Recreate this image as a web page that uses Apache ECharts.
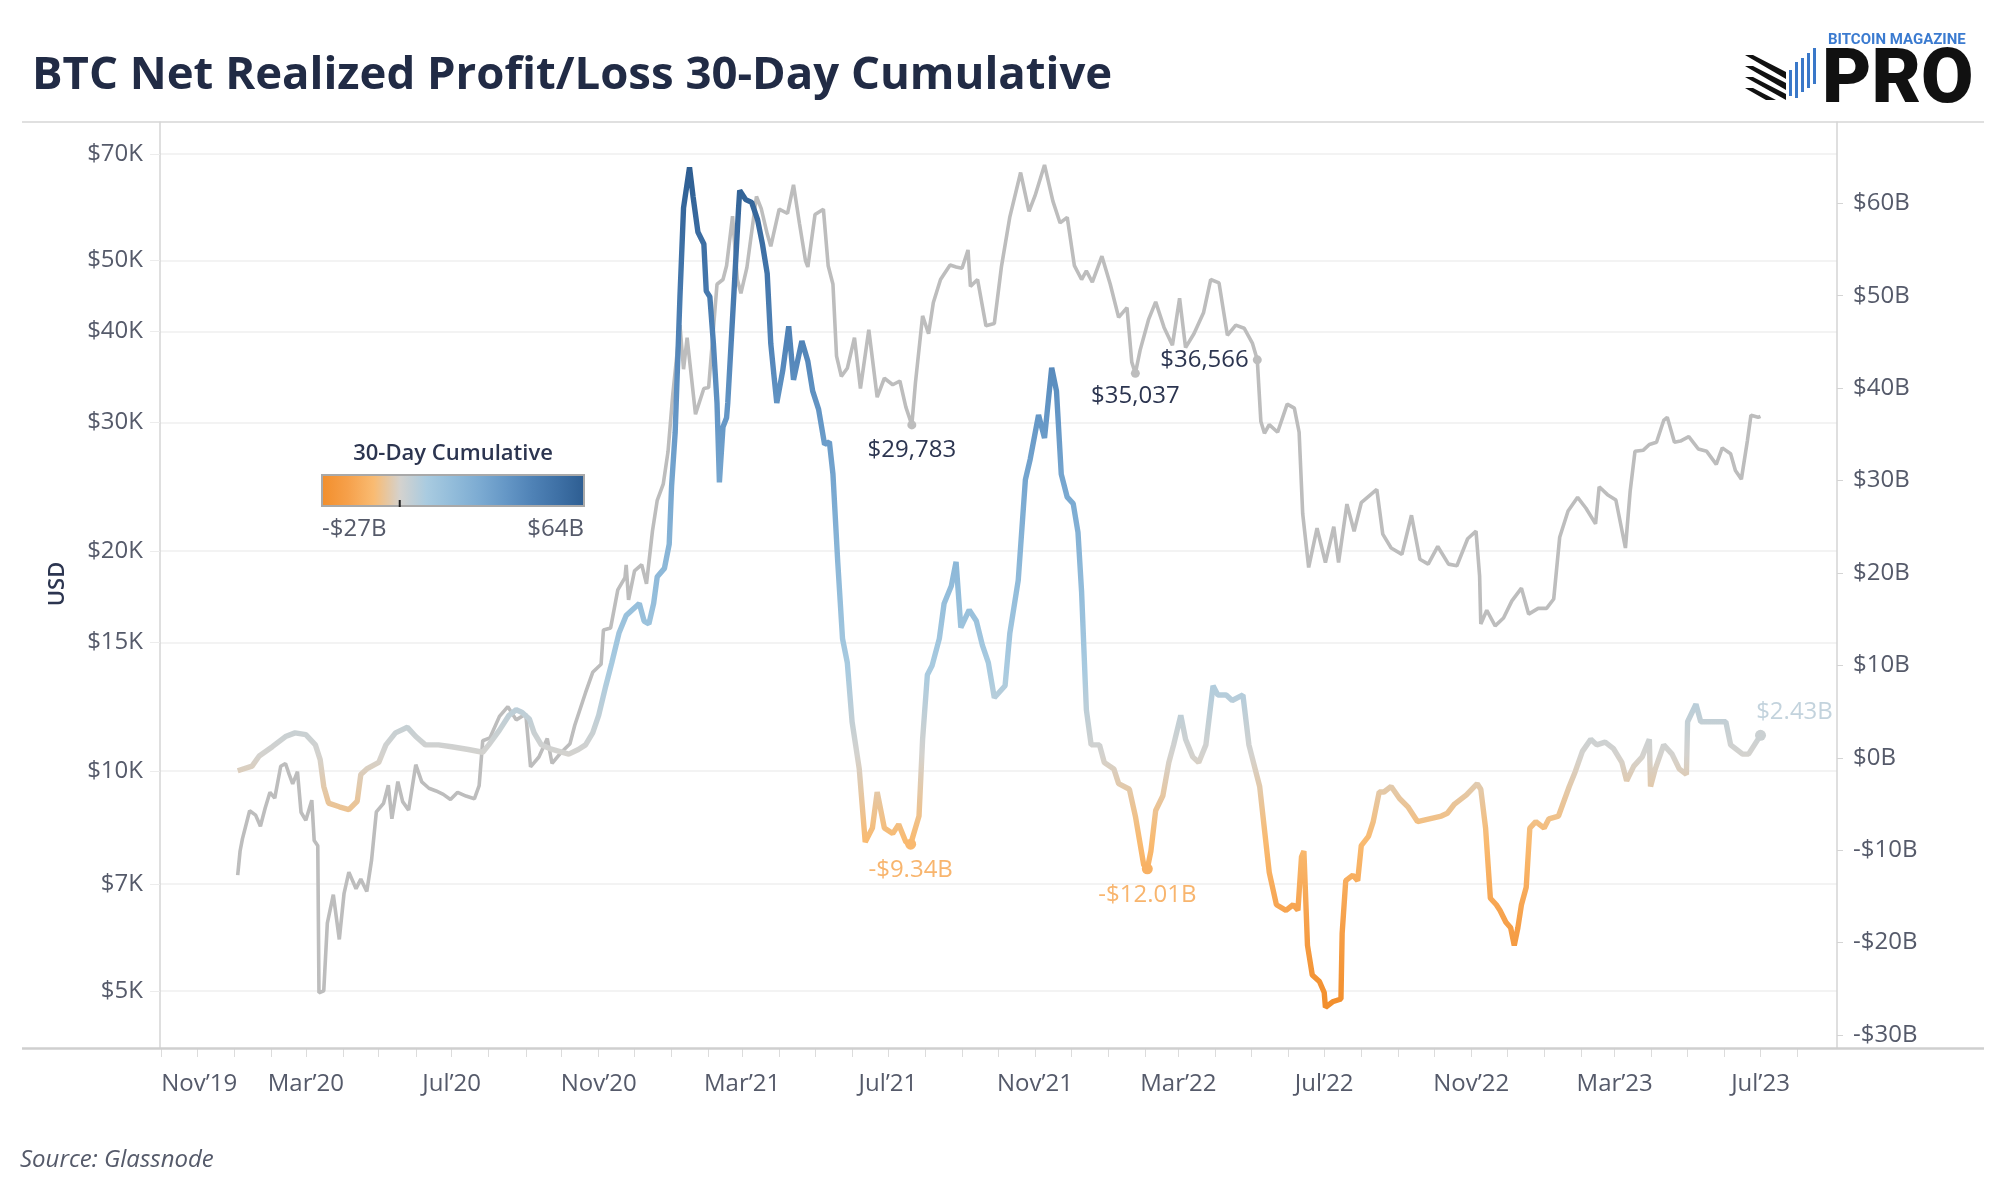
<!DOCTYPE html>
<html>
<head>
<meta charset="utf-8">
<title>BTC Net Realized Profit/Loss 30-Day Cumulative</title>
<script src="https://cdn.jsdelivr.net/npm/echarts@6/dist/echarts.min.js"></script>
<style>
  html, body { margin: 0; padding: 0; background: #fff; }
  #chart { width: 1999px; height: 1200px; }
</style>
</head>
<body>
<div id="chart"></div>
<script>
// BTC price (USD, log scale, left axis)
var priceDates = [
  '2020-01-04','2020-01-06','2020-01-08','2020-01-14','2020-01-19','2020-01-23','2020-01-27','2020-01-31',
  '2020-02-04','2020-02-09','2020-02-13','2020-02-16','2020-02-19','2020-02-23','2020-02-26','2020-03-01',
  '2020-03-06','2020-03-08','2020-03-11','2020-03-12','2020-03-16','2020-03-19','2020-03-24','2020-03-29',
  '2020-04-02','2020-04-06','2020-04-12','2020-04-16','2020-04-21','2020-04-25','2020-04-29','2020-05-05',
  '2020-05-09','2020-05-12','2020-05-17','2020-05-21','2020-05-26','2020-06-01','2020-06-06','2020-06-12',
  '2020-06-18','2020-06-24','2020-06-30','2020-07-06','2020-07-13','2020-07-20','2020-07-24','2020-07-27',
  '2020-08-02','2020-08-10','2020-08-17','2020-08-24','2020-09-01','2020-09-05','2020-09-12','2020-09-19',
  '2020-09-23','2020-10-01','2020-10-08','2020-10-12','2020-10-21','2020-10-27','2020-11-03','2020-11-05',
  '2020-11-11','2020-11-17','2020-11-23','2020-11-24','2020-11-26','2020-12-01','2020-12-07','2020-12-11',
  '2020-12-16','2020-12-20','2020-12-25','2020-12-29',
  '2021-01-02','2021-01-08','2021-01-11','2021-01-14','2021-01-21','2021-01-28','2021-02-01','2021-02-08',
  '2021-02-13','2021-02-16','2021-02-21','2021-02-25','2021-02-28','2021-03-05','2021-03-13','2021-03-17',
  '2021-03-22','2021-03-25','2021-04-01','2021-04-08','2021-04-13','2021-04-18','2021-04-23','2021-04-25',
  '2021-05-01','2021-05-08','2021-05-12','2021-05-16','2021-05-19','2021-05-23','2021-05-28','2021-06-03',
  '2021-06-08','2021-06-15','2021-06-22','2021-06-28','2021-07-05','2021-07-11','2021-07-16','2021-07-21',
  '2021-07-24','2021-07-30','2021-08-04','2021-08-08','2021-08-14','2021-08-22','2021-08-27','2021-09-01',
  '2021-09-06','2021-09-08','2021-09-14','2021-09-21','2021-09-28','2021-10-04','2021-10-11','2021-10-20',
  '2021-10-27','2021-11-01','2021-11-09','2021-11-16','2021-11-22','2021-11-28','2021-12-04','2021-12-10',
  '2021-12-14','2021-12-19','2021-12-27',
  '2022-01-03','2022-01-10','2022-01-17','2022-01-21','2022-01-24','2022-01-28','2022-02-04','2022-02-10',
  '2022-02-17','2022-02-24','2022-03-02','2022-03-07','2022-03-14','2022-03-22','2022-03-28','2022-04-04',
  '2022-04-11','2022-04-18','2022-04-25','2022-05-02','2022-05-06','2022-05-09','2022-05-12','2022-05-16',
  '2022-05-23','2022-05-31','2022-06-06','2022-06-10','2022-06-13','2022-06-18','2022-06-25','2022-07-02',
  '2022-07-09','2022-07-13','2022-07-20','2022-07-26','2022-08-01','2022-08-14','2022-08-19','2022-08-26',
  '2022-09-04','2022-09-12','2022-09-19','2022-09-26','2022-10-04','2022-10-13','2022-10-20','2022-10-29',
  '2022-11-05','2022-11-08','2022-11-09','2022-11-14','2022-11-21','2022-11-28','2022-12-05','2022-12-13',
  '2022-12-19','2022-12-27',
  '2023-01-03','2023-01-09','2023-01-14','2023-01-21','2023-01-29','2023-02-05','2023-02-13','2023-02-16',
  '2023-02-23','2023-03-02','2023-03-10','2023-03-14','2023-03-18','2023-03-25','2023-03-30','2023-04-05',
  '2023-04-11','2023-04-14','2023-04-20','2023-04-25','2023-05-02','2023-05-10','2023-05-17','2023-05-25',
  '2023-05-30','2023-06-06','2023-06-10','2023-06-15','2023-06-20','2023-06-23','2023-06-29','2023-07-01'
];
var priceUsd = [
  7200,7770,8080,8820,8700,8400,8900,9350,
  9180,10150,10240,9900,9600,9980,8780,8560,
  9120,8030,7900,4970,5000,6190,6770,5880,
  6800,7270,6900,7110,6840,7550,8790,9030,
  9560,8600,9670,9080,8840,10200,9660,9470,
  9390,9290,9140,9350,9240,9160,9550,11000,
  11100,11880,12250,11750,11970,10130,10450,11080,
  10240,10620,10900,11550,12800,13650,14000,15600,
  15700,17700,18400,19150,17150,18800,19170,18050,
  21310,23480,24700,27360,
  32780,40800,35500,39200,30800,33400,33500,46400,
  47100,49200,57500,47100,45100,48900,61200,58900,
  54400,52300,58800,58000,63500,56200,50000,49000,
  57800,58800,49200,46400,37000,34700,35600,39200,
  33400,40200,32500,34500,33800,34200,31500,29783,
  34000,42000,39700,43800,47100,49300,49000,48800,
  51700,46100,47100,40700,41000,49100,57400,66000,
  58400,61300,67600,60300,56300,57300,49200,47100,
  48400,46700,50700,
  46400,41800,43100,36300,35037,37700,41500,43900,
  40500,38300,44400,38000,39700,42400,47100,46600,
  39500,40800,40400,38500,36566,30100,29000,29800,
  29100,31800,31400,29100,22500,19000,21500,19300,
  21600,19300,23200,21300,23300,24300,21100,20200,
  19800,22400,19500,19200,20300,19200,19100,20800,
  21300,18500,15900,16600,15800,16200,17100,17800,
  16400,16700,
  16700,17200,20900,22700,23700,22900,21800,24500,
  23900,23500,20200,24200,27400,27500,28000,28200,
  30200,30500,28200,28300,28700,27600,27400,26300,
  27700,27200,25800,25100,28300,30700,30500,30600
];

// Net realized profit/loss, 30-day cumulative (USD billions, right axis)
var nrplDates = [
  '2020-01-04','2020-01-16','2020-01-22','2020-02-02','2020-02-13','2020-02-21','2020-03-01','2020-03-09',
  '2020-03-13','2020-03-16','2020-03-20','2020-03-29','2020-04-06','2020-04-13','2020-04-16','2020-04-21',
  '2020-05-01','2020-05-07','2020-05-15','2020-05-25','2020-06-01','2020-06-09','2020-06-20','2020-07-01',
  '2020-07-15','2020-07-27','2020-08-01','2020-08-10','2020-08-18','2020-08-24','2020-08-29','2020-09-04',
  '2020-09-08','2020-09-14','2020-09-21','2020-09-29','2020-10-07','2020-10-15','2020-10-21','2020-10-27',
  '2020-11-01','2020-11-07','2020-11-12','2020-11-18','2020-11-24','2020-11-29','2020-12-05','2020-12-09',
  '2020-12-13','2020-12-17','2020-12-20','2020-12-26','2020-12-30',
  '2021-01-01','2021-01-04','2021-01-08','2021-01-11','2021-01-16','2021-01-19','2021-01-23','2021-01-28',
  '2021-01-30','2021-02-02','2021-02-05','2021-02-08','2021-02-10','2021-02-13','2021-02-16','2021-02-17',
  '2021-02-22','2021-02-26','2021-02-27','2021-03-04','2021-03-09','2021-03-14','2021-03-18','2021-03-22',
  '2021-03-25','2021-03-28','2021-03-30','2021-04-04','2021-04-09','2021-04-13','2021-04-20','2021-04-25',
  '2021-04-29','2021-05-04','2021-05-09','2021-05-13','2021-05-16','2021-05-20','2021-05-24','2021-05-28',
  '2021-06-01','2021-06-07','2021-06-12','2021-06-18','2021-06-22','2021-06-28','2021-07-05','2021-07-10',
  '2021-07-16','2021-07-20','2021-07-27','2021-07-30','2021-08-03','2021-08-07','2021-08-13','2021-08-17',
  '2021-08-23','2021-08-27','2021-08-31','2021-09-07','2021-09-13','2021-09-18','2021-09-23','2021-09-28',
  '2021-10-07','2021-10-11','2021-10-18','2021-10-24','2021-10-28','2021-11-04','2021-11-09','2021-11-15',
  '2021-11-19','2021-11-23','2021-11-28','2021-12-03','2021-12-07','2021-12-10','2021-12-14','2021-12-18',
  '2021-12-25','2021-12-29',
  '2022-01-06','2022-01-10','2022-01-19','2022-01-24','2022-01-31','2022-02-03','2022-02-06','2022-02-10',
  '2022-02-16','2022-02-21','2022-02-25','2022-03-03','2022-03-07','2022-03-13','2022-03-18','2022-03-24',
  '2022-03-30','2022-04-03','2022-04-10','2022-04-15','2022-04-24','2022-04-29','2022-05-08','2022-05-16',
  '2022-05-22','2022-05-30','2022-06-05','2022-06-09','2022-06-12','2022-06-14','2022-06-17','2022-06-21',
  '2022-06-27','2022-07-01','2022-07-02','2022-07-08','2022-07-15','2022-07-16','2022-07-19','2022-07-25',
  '2022-07-29','2022-08-01','2022-08-07','2022-08-11','2022-08-16','2022-08-20','2022-08-26','2022-09-02',
  '2022-09-09','2022-09-17','2022-09-27','2022-10-07','2022-10-12','2022-10-18','2022-10-28','2022-11-06',
  '2022-11-09','2022-11-13','2022-11-17','2022-11-22','2022-11-25','2022-11-30','2022-12-04','2022-12-07',
  '2022-12-10','2022-12-13','2022-12-17','2022-12-20','2022-12-25',
  '2023-01-01','2023-01-05','2023-01-13','2023-01-22','2023-01-27','2023-02-02','2023-02-09','2023-02-14',
  '2023-02-21','2023-02-28','2023-03-07','2023-03-11','2023-03-17','2023-03-24','2023-03-30','2023-03-31',
  '2023-04-04','2023-04-11','2023-04-18','2023-04-24','2023-04-30','2023-05-01','2023-05-08','2023-05-12',
  '2023-05-19','2023-05-25','2023-06-02','2023-06-06','2023-06-16','2023-06-21','2023-07-01'
];
var nrplBillions = [
  -1.4,-0.9,0.2,1.2,2.3,2.7,2.5,1.4,
  -0.2,-3.1,-4.9,-5.3,-5.6,-4.7,-1.8,-1.2,
  -0.5,1.4,2.7,3.3,2.3,1.4,1.4,1.2,
  0.9,0.6,1.4,3.0,4.6,5.2,4.9,4.2,
  2.7,1.4,1.0,0.7,0.4,0.9,1.4,2.7,
  4.6,7.8,10.3,13.5,15.4,16.0,16.7,14.8,
  14.5,16.7,19.6,20.5,23.1,
  29.4,35.2,49.9,59.5,63.9,60.7,56.9,55.6,
  50.5,49.9,44.8,38.4,29.8,35.8,36.8,38.4,
  49.9,59.4,61.4,60.4,60.1,58.2,55.6,52.4,
  44.8,40.9,38.4,41.9,46.7,40.9,45.1,42.9,
  39.7,37.7,33.9,34.2,30.7,21.2,12.9,10.3,
  3.9,-1.2,-9.1,-7.6,-3.7,-7.6,-8.2,-7.2,
  -9.1,-9.34,-6.3,2.0,9.0,10.0,12.9,16.7,
  18.6,21.2,14.1,16.0,14.8,12.2,10.3,6.5,
  7.8,13.5,19.2,30.1,32.3,37.1,34.6,42.2,
  39.7,30.7,28.2,27.5,24.4,18.0,5.2,1.4,
  1.4,-0.5,
  -1.2,-2.8,-3.4,-6.3,-11.6,-12.01,-10.1,-5.7,
  -4.1,-0.5,1.4,4.6,2.0,0.1,-0.5,1.4,
  7.8,6.8,6.8,6.2,6.8,1.4,-3.1,-12.4,
  -15.9,-16.5,-15.9,-16.5,-10.7,-10.1,-20.3,-23.5,
  -24.2,-25.4,-27.0,-26.4,-26.1,-19.0,-13.3,-12.7,
  -13.3,-9.5,-8.5,-6.9,-3.7,-3.7,-3.1,-4.4,
  -5.3,-6.9,-6.6,-6.3,-6.0,-5.0,-4.0,-2.8,
  -3.4,-7.6,-15.2,-15.9,-16.5,-17.8,-18.4,-20.3,
  -18.4,-15.9,-14.0,-7.6,-6.9,
  -7.6,-6.6,-6.3,-3.1,-1.5,0.7,2.0,1.4,
  1.7,1.0,-0.5,-2.5,-0.9,0.1,2.0,-3.1,
  -1.2,1.4,0.4,-1.2,-1.8,3.9,5.8,3.9,
  3.9,3.9,3.9,1.4,0.4,0.4,2.43
];

// axis ticks
var usdTicks = [5000, 7000, 10000, 15000, 20000, 30000, 40000, 50000, 70000];
var billionTicks = [-30, -20, -10, 0, 10, 20, 30, 40, 50, 60];
var monthLabelDates = ['2019-11-01','2020-03-01','2020-07-01','2020-11-01','2021-03-01','2021-07-01',
  '2021-11-01','2022-03-01','2022-07-01','2022-11-01','2023-03-01','2023-07-01'];

// colour ramp of the 30-day cumulative legend (-27B .. 64B)
var rampMin = -27, rampMax = 64;
var rampColors = ['#f28e2b','#f6a04a','#f9bb72','#d4d2ce','#a9cbe0','#92bcda',
  '#7cabd2','#6597c6','#4f82b6','#3e70a5','#2d5d91'];

var months = ['Jan','Feb','Mar','Apr','May','Jun','Jul','Aug','Sep','Oct','Nov','Dec'];
function ts(s) {
  var p = s.split('-');
  return new Date(+p[0], +p[1] - 1, +p[2]).getTime();
}

// monthly ticks along the date axis
var monthTicks = [];
for (var y = 2019, m = 10; ; m++) {
  if (m > 11) { m = 0; y++; }
  if (y === 2023 && m > 7) break;
  monthTicks.push(new Date(y, m, 1).getTime());
}

// annotated points
var priceNotes = {
  '2021-07-21': { position: 'bottom', distance: 9 },
  '2022-01-24': { position: 'bottom', distance: 6 },
  '2022-05-06': { position: 'left', distance: 4 }
};
var nrplNotes = {
  '2021-07-20': { position: 'bottom', distance: 9, color: '#f8b56e' },
  '2022-02-03': { position: 'bottom', distance: 9, color: '#f8b56e' },
  '2023-07-01': { position: 'top', distance: 6, offset: [34, 0], color: '#c3d3dd' }
};

function fmtUsd(v) { return '$' + v.toLocaleString('en-US'); }
function fmtB(v) { return (v < 0 ? '-$' : '$') + Math.abs(v).toFixed(2) + 'B'; }

var priceData = priceDates.map(function (d, i) {
  var item = { value: [ts(d), priceUsd[i]] };
  var n = priceNotes[d];
  if (n) {
    item.symbol = 'circle';
    item.symbolSize = 9;
    item.label = {
      show: true, position: n.position, distance: n.distance,
      formatter: fmtUsd(priceUsd[i]), color: '#2c3550', fontSize: 24, fontFamily: 'Open Sans'
    };
  }
  return item;
});

var nrplData = nrplDates.map(function (d, i) {
  var item = { value: [ts(d), nrplBillions[i]] };
  var n = nrplNotes[d];
  if (n) {
    item.symbol = 'circle';
    item.symbolSize = 11;
    item.label = {
      show: true, position: n.position, distance: n.distance, offset: n.offset || [0, 0],
      formatter: fmtB(nrplBillions[i]), color: n.color, fontSize: 24, fontFamily: 'Open Sans'
    };
  }
  return item;
});

var legendStops = rampColors.map(function (c, i) {
  return { offset: i / (rampColors.length - 1), color: c };
});

var chart = echarts.init(document.getElementById('chart'), null, { renderer: 'canvas' });

var option = {
  animation: false,
  backgroundColor: '#ffffff',
  textStyle: { fontFamily: 'Open Sans' },
  grid: { left: 160, right: 162, top: 122, bottom: 152, containLabel: false },
  xAxis: {
    // dates as epoch milliseconds on a plain numeric scale
    type: 'value',
    min: ts('2019-10-31'),
    max: ts('2023-09-03'),
    axisLine: { show: false, onZero: false },
    axisTick: { show: true, length: 9, lineStyle: { color: '#dcdcdc' }, customValues: monthTicks },
    axisLabel: {
      customValues: monthLabelDates.map(ts),
      alignMinLabel: 'left',
      margin: 24,
      color: '#555a6a',
      fontSize: 24,
      fontFamily: 'Open Sans',
      formatter: function (v) {
        var d = new Date(v);
        return months[d.getMonth()] + '\u2019' + String(d.getFullYear()).slice(2);
      }
    },
    splitLine: { show: false }
  },
  yAxis: [
    {
      type: 'log',
      logBase: 10,
      min: 4175,
      max: 77400,
      position: 'left',
      axisLine: { show: true, onZero: false, lineStyle: { color: '#d4d4d4', width: 1.5 } },
      axisTick: { show: true, length: 10, lineStyle: { color: '#ececec' }, customValues: usdTicks },
      axisLabel: {
        customValues: usdTicks,
        margin: 17,
        color: '#555a6a',
        fontSize: 24,
        fontFamily: 'Open Sans',
        formatter: function (v) { return '$' + Math.round(v / 1000) + 'K'; }
      },
      splitLine: { show: true, lineStyle: { color: '#efefef', width: 1.5 } }
    },
    {
      type: 'value',
      min: -31.4,
      max: 68.8,
      position: 'right',
      axisLine: { show: true, onZero: false, lineStyle: { color: '#d4d4d4', width: 1.5 } },
      axisTick: { show: true, length: 6, lineStyle: { color: '#d4d4d4' }, customValues: billionTicks },
      axisLabel: {
        customValues: billionTicks,
        margin: 16,
        color: '#555a6a',
        fontSize: 24,
        fontFamily: 'Open Sans',
        formatter: function (v) { return (v < 0 ? '-$' : '$') + Math.abs(v) + 'B'; }
      },
      splitLine: { show: false }
    }
  ],
  visualMap: {
    type: 'continuous',
    show: false,
    seriesIndex: 1,
    dimension: 1,
    min: rampMin,
    max: rampMax,
    inRange: { color: rampColors }
  },
  series: [
    {
      name: 'BTC Price',
      type: 'line',
      yAxisIndex: 0,
      data: priceData,
      symbol: 'none',
      showSymbol: true,
      lineStyle: { color: '#bdbdbd', width: 3.6 },
      itemStyle: { color: '#bdbdbd' },
      z: 2
    },
    {
      name: '30-Day Cumulative',
      type: 'line',
      yAxisIndex: 1,
      data: nrplData,
      symbol: 'none',
      showSymbol: true,
      lineStyle: { width: 5.4 },
      z: 3
    }
  ],
  graphic: [
    // title
    { type: 'text', x: 32, y: 76, z: 10,
      style: { text: 'BTC Net Realized Profit/Loss 30-Day Cumulative', fill: '#212b45',
        font: 'bold 45.5px "Open Sans"', verticalAlign: 'middle' } },
    // frame rules
    { type: 'line', z: 1, shape: { x1: 22, y1: 122, x2: 1984, y2: 122 },
      style: { stroke: '#d6d6d6', lineWidth: 1.5 } },
    { type: 'line', z: 1, shape: { x1: 22, y1: 1048.5, x2: 1984, y2: 1048.5 },
      style: { stroke: '#cfcfcf', lineWidth: 2.5 } },
    // y axis name
    { type: 'text', x: 58, y: 584, rotation: Math.PI / 2, z: 10,
      style: { text: 'USD', fill: '#2c3550', font: '600 22px "Open Sans"', align: 'center', verticalAlign: 'middle' } },
    // colour legend
    { type: 'text', x: 453, y: 454, z: 10,
      style: { text: '30-Day Cumulative', fill: '#2c3550', font: '600 22px "Open Sans"', align: 'center', verticalAlign: 'middle' } },
    { type: 'rect', z: 10, shape: { x: 322, y: 475, width: 262, height: 31 },
      style: { fill: new echarts.graphic.LinearGradient(0, 0, 1, 0, legendStops), stroke: '#a9a9a9', lineWidth: 2 } },
    { type: 'line', z: 11,
      shape: { x1: 322 + 262 * (0 - rampMin) / (rampMax - rampMin), y1: 500, x2: 322 + 262 * (0 - rampMin) / (rampMax - rampMin), y2: 507 },
      style: { stroke: '#222', lineWidth: 2 } },
    { type: 'text', x: 322, y: 529, z: 10,
      style: { text: '-$' + Math.abs(rampMin) + 'B', fill: '#555a6a', font: '24px "Open Sans"', align: 'left', verticalAlign: 'middle' } },
    { type: 'text', x: 584, y: 529, z: 10,
      style: { text: '$' + rampMax + 'B', fill: '#555a6a', font: '24px "Open Sans"', align: 'right', verticalAlign: 'middle' } },
    // source
    { type: 'text', x: 20, y: 1160, z: 10,
      style: { text: 'Source: Glassnode', fill: '#555a6a', font: 'italic 24px "Open Sans"', verticalAlign: 'middle' } },
    // logo
    { type: 'group', z: 10, children: [
      { type: 'polygon', shape: { points: [[1745, 55], [1753, 55], [1786, 72], [1786, 79]] }, style: { fill: '#111' } },
      { type: 'polygon', shape: { points: [[1745, 66], [1753, 66], [1786, 83], [1786, 90]] }, style: { fill: '#111' } },
      { type: 'polygon', shape: { points: [[1745, 77], [1753, 77], [1786, 94], [1786, 100]] }, style: { fill: '#111' } },
      { type: 'polygon', shape: { points: [[1745, 88], [1753, 88], [1776, 100], [1766, 100]] }, style: { fill: '#111' } },
      { type: 'rect', shape: { x: 1789, y: 70, width: 3, height: 26 }, style: { fill: '#3a78c9' } },
      { type: 'rect', shape: { x: 1795, y: 62, width: 3, height: 36 }, style: { fill: '#3a78c9' } },
      { type: 'rect', shape: { x: 1801, y: 58, width: 3, height: 34 }, style: { fill: '#3a78c9' } },
      { type: 'rect', shape: { x: 1807, y: 53, width: 3, height: 35 }, style: { fill: '#3a78c9' } },
      { type: 'rect', shape: { x: 1813, y: 48, width: 3, height: 36 }, style: { fill: '#3a78c9' } },
      { type: 'text', x: 1828, y: 40, style: { text: 'BITCOIN MAGAZINE', fill: '#3b7bd0', font: 'bold 15px Roboto', verticalAlign: 'middle' } },
      { type: 'text', x: 1822, y: 83, style: { text: 'PRO', fill: '#111111', font: '900 76px Roboto', verticalAlign: 'middle' } }
    ] }
  ]
};

chart.setOption(option);
</script>
</body>
</html>
